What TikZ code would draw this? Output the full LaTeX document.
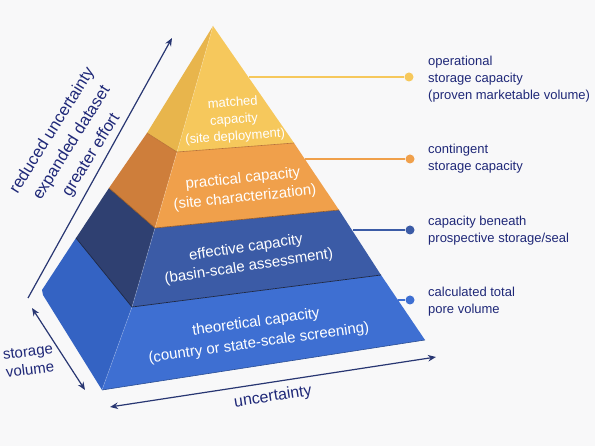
\documentclass[tikz,border=0pt]{standalone}
\usepackage{fontspec}
\setmainfont{Liberation Sans}
\usetikzlibrary{arrows.meta,calc}
\definecolor{bgc}{HTML}{F8F8F9}
\definecolor{navy}{HTML}{1F2878}
\definecolor{arrc}{HTML}{283672}
\definecolor{yfront}{HTML}{F6C85C}
\definecolor{yleft}{HTML}{E8B54C}
\definecolor{ofront}{HTML}{F0A04B}
\definecolor{oleft}{HTML}{CE7E3B}
\definecolor{dfront}{HTML}{3B5BA6}
\definecolor{dleft}{HTML}{2F4071}
\definecolor{bfront}{HTML}{3E6FD2}
\definecolor{bleft}{HTML}{3463C3}
\begin{document}
\begin{tikzpicture}[x=1pt,y=-1pt,
  >={Stealth[length=8pt,width=6.5pt]},
  lbl/.style={font=\fontsize{13}{17}\selectfont, text=navy, align=left, anchor=west, inner sep=0pt},
  tiertxt/.style={text=white, align=center, inner sep=0pt},
  sidetxt/.style={text=navy, align=center, inner sep=0pt},
  dotmark/.style={circle, inner sep=0pt, minimum size=9pt},
  arr/.style={draw=arrc, line width=1.2pt}]
\useasboundingbox (0,0) rectangle (595,446);
\fill[bgc] (0,0) rectangle (595,446);
% key points
\coordinate (apex) at (213,26);
\coordinate (ybl) at (147,133); \coordinate (yfl) at (177,152); \coordinate (yfr) at (294,143);
\coordinate (obl) at (109,188); \coordinate (ofl) at (155,228); \coordinate (ofr) at (339,210);
\coordinate (dbl) at (76,238);  \coordinate (dfl) at (132,307); \coordinate (dfr) at (381,275);
\coordinate (btl) at (42,290);  \coordinate (bbl) at (43,295);  \coordinate (bfl) at (102,390); \coordinate (bfr) at (425,340);
% bottom tier
\fill[bleft] (btl) -- (bbl) -- (bfl) -- (dfl) -- (dbl) -- cycle;
\fill[bfront] (dfl) -- (bfl) -- (bfr) -- (dfr) -- cycle;
\draw[bfront!70!black, line width=0.6pt] (bfl) -- (bfr);
% dark tier
\fill[dleft] (dbl) -- (dfl) -- (ofl) -- (obl) -- cycle;
\fill[dfront] (ofl) -- (dfl) -- (dfr) -- (ofr) -- cycle;
\draw[dleft!60!black, line width=0.7pt] (dbl) -- (dfl) -- (dfr);
% orange tier
\fill[oleft] (obl) -- (ofl) -- (yfl) -- (ybl) -- cycle;
\fill[ofront] (yfl) -- (ofl) -- (ofr) -- (yfr) -- cycle;
\draw[oleft!70!black, line width=0.6pt] (obl) -- (ofl) -- (ofr);
% yellow tier
\fill[yleft] (ybl) -- (yfl) -- (apex) -- cycle;
\fill[yfront] (yfl) -- (yfr) -- (apex) -- cycle;
\draw[oleft!90!black, line width=0.6pt] (ybl) -- (yfl) -- (yfr);
% crease highlights
\draw[white, opacity=0.25, line width=0.6pt] (apex) -- (yfl) (ofl) -- (yfl) (dfl) -- (ofl) (bfl) -- (dfl);
% tier texts
\node[tiertxt, font=\fontsize{13}{17}\selectfont, rotate=4] (t1) at (234,120) {matched\\capacity\\(site deployment)};
\node[tiertxt, font=\fontsize{15}{19}\selectfont, rotate=6] (t2) at (244,188.5) {practical capacity\\(site characterization)};
\node[tiertxt, font=\fontsize{15}{19}\selectfont, rotate=8.5] (t3) at (247.5,257.5) {effective capacity\\(basin-scale assessment)};
\node[tiertxt, font=\fontsize{15}{21}\selectfont, rotate=8] (t4) at (257.5,333) {theoretical capacity\\(country or state-scale screening)};
% connectors
\node[dotmark, fill=yfront] (d1) at (409,77) {};
\node[dotmark, fill=ofront] (d2) at (410,159) {};
\node[dotmark, fill=dfront] (d3) at (410,230) {};
\node[dotmark, fill=bfront] (d4) at (410,300) {};
\coordinate (e1) at (249,77);
\coordinate (e2) at (305,159);
\coordinate (e3) at (353,230);
\coordinate (e4) at (398,300);
\draw[yfront, line width=1.2pt] (e1) -- (d1);
\draw[ofront, line width=1.2pt] (e2) -- (d2);
\draw[dfront, line width=1.2pt] (e3) -- (d3);
\draw[bfront, line width=1.2pt] (e4) -- (d4);
% right labels
\node[lbl] (l1) at (428,79) {operational\\storage capacity\\(proven marketable volume)};
\node[lbl] (l2) at (428,159) {contingent\\storage capacity};
\node[lbl] (l3) at (428,231) {capacity beneath\\prospective storage/seal};
\node[lbl] (l4) at (428,302) {calculated total\\pore volume};
% left arrows and labels
\coordinate (a1s) at (28,298); \coordinate (a1e) at (172,38);
\draw[arr, ->] (a1s) -- (a1e);
\node[sidetxt, font=\fontsize{16.5}{23}\selectfont, rotate=58] (s1) at (72,143) {reduced uncertainty\\expanded dataset\\greater effort};
\coordinate (a2s) at (32,308); \coordinate (a2e) at (85,390);
\draw[arr, <->] (a2s) -- (a2e);
\node[sidetxt, font=\fontsize{15}{18}\selectfont, rotate=7] (s2) at (29,361) {storage\\volume};
\coordinate (a3s) at (110,407); \coordinate (a3e) at (436,357);
\draw[arr, <->] (a3s) -- (a3e);
\node[sidetxt, font=\fontsize{16}{19}\selectfont, rotate=8.8] (s3) at (273,397) {uncertainty};
\end{tikzpicture}
\end{document}
